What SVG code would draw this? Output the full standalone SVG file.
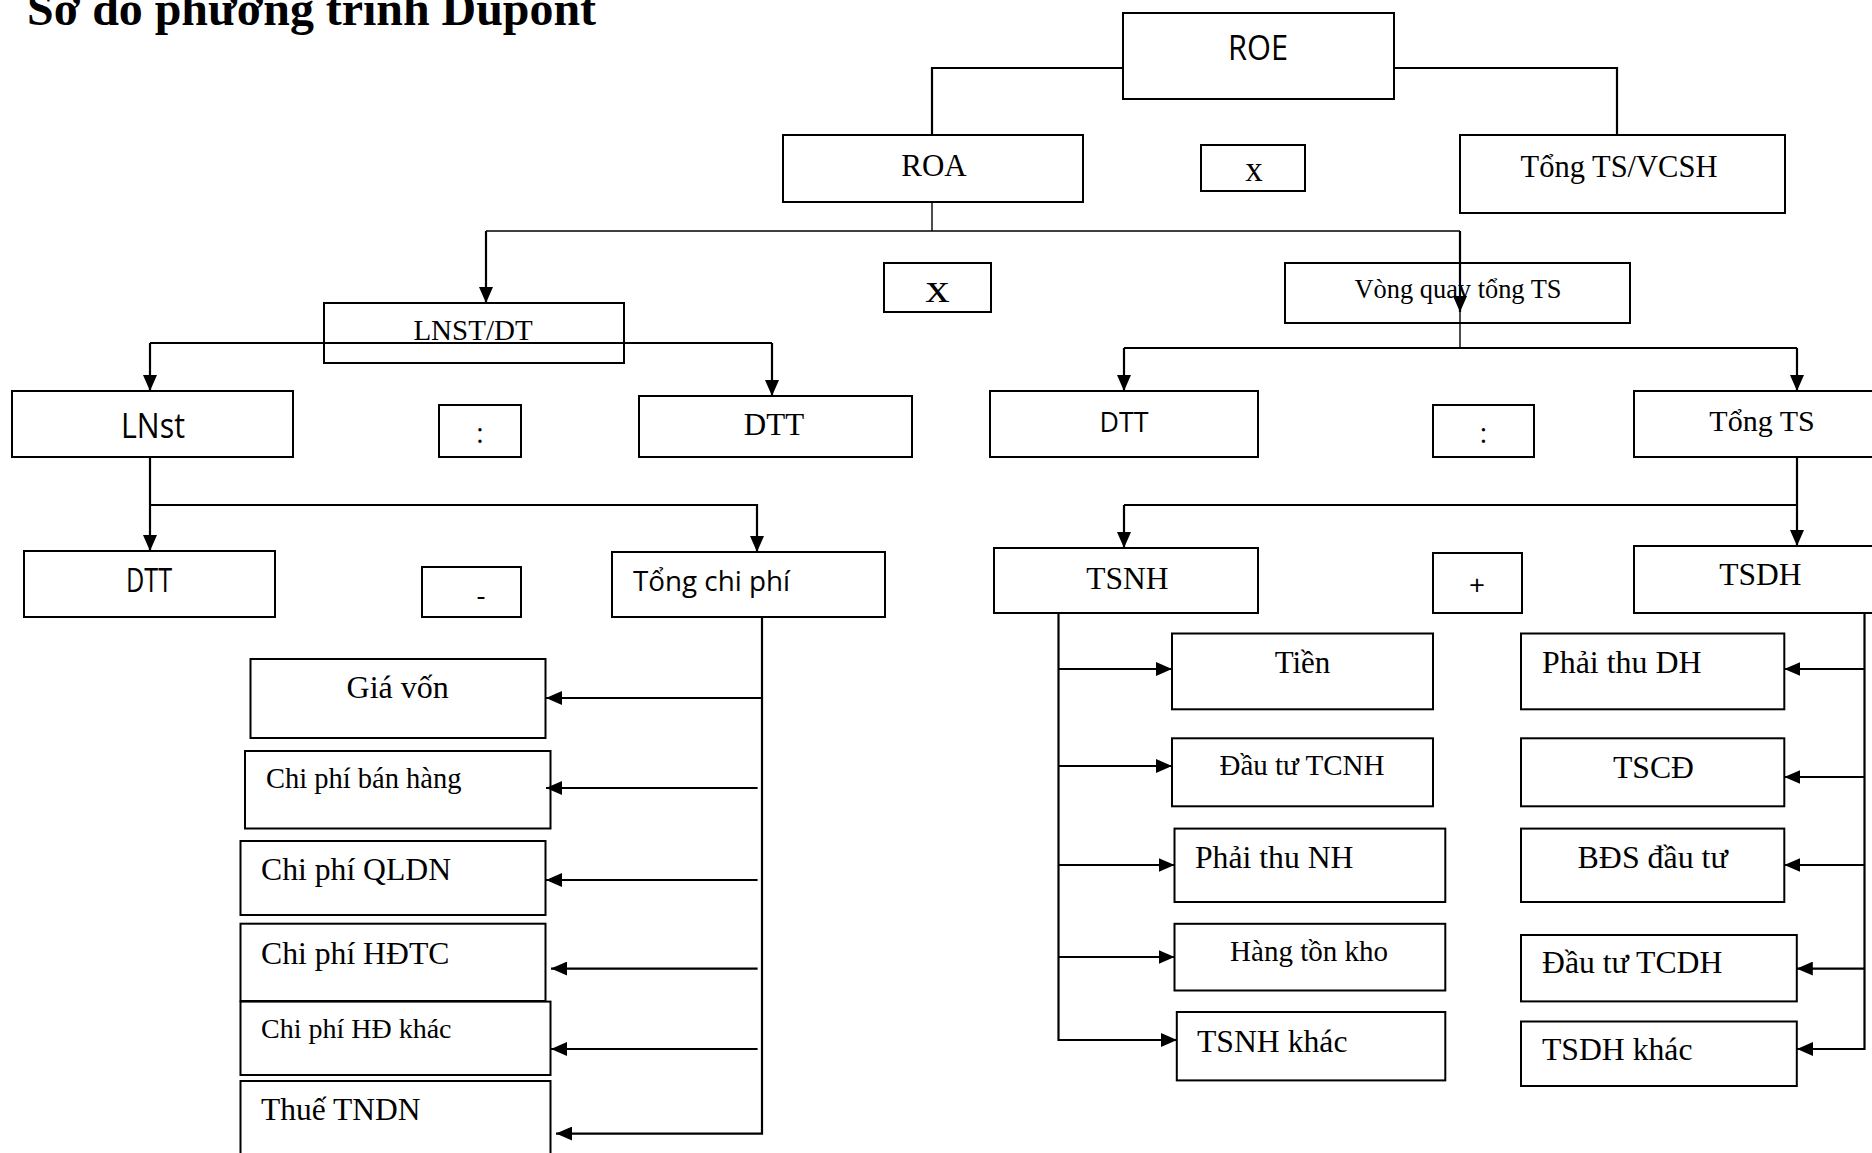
<svg xmlns="http://www.w3.org/2000/svg" width="1872" height="1153" viewBox="0 0 1872 1153">
<style>
.box{fill:none;stroke:#000;stroke-width:2}
.ln{fill:none;stroke:#000;stroke-width:2.2}
.thin{fill:none;stroke:#000;stroke-width:1.4}
.arr{marker-end:url(#ah)}
.sf{font-family:"Liberation Serif","Times New Roman",serif;fill:#000}
.ss{font-family:"Open Sans","Noto Sans",sans-serif;fill:#000}
.m{text-anchor:middle}
</style>
<defs>
<marker id="ah" viewBox="0 0 10 10" refX="10" refY="5" markerUnits="userSpaceOnUse" markerWidth="16" markerHeight="14" preserveAspectRatio="none" orient="auto">
<path d="M0,0 L10,5 L0,10 z" fill="#000"/>
</marker>
</defs>
<rect width="1872" height="1153" fill="#fff"/>
<text class="sf" x="27" y="25" font-size="48" font-weight="bold" textLength="569" lengthAdjust="spacingAndGlyphs">Sơ đồ phương trình Dupont</text>

<g id="n-roe"><rect class="box" x="1123" y="13" width="271" height="86"/><text class="ss m" x="1258" y="60" font-size="34" textLength="60" lengthAdjust="spacingAndGlyphs">ROE</text></g>
<g id="n-roa"><rect class="box" x="783" y="135" width="300" height="67"/><text class="sf m" x="934" y="176" font-size="31">ROA</text></g>
<g id="n-x1"><rect class="box" x="1201" y="145" width="104" height="46"/><text class="sf m" x="1254" y="181" font-size="35">x</text></g>
<g id="n-tsvcsh"><rect class="box" x="1460" y="135" width="325" height="78"/><text class="sf m" x="1619" y="177" font-size="30.5">Tổng TS/VCSH</text></g>
<g id="n-x2"><rect class="box" x="884" y="263" width="107" height="49"/><text class="sf m" x="937.5" y="302" font-size="39" textLength="24" lengthAdjust="spacingAndGlyphs">x</text></g>
<g id="n-vongquay"><rect class="box" x="1285" y="263" width="345" height="60"/><text class="sf m" x="1458" y="298" font-size="26.4">Vòng quay tổng TS</text></g>
<g id="n-lnstdt"><rect class="box" x="324" y="303" width="300" height="60"/><text class="sf m" x="473" y="340" font-size="29">LNST/DT</text></g>
<g id="n-lnst"><rect class="box" x="12" y="391" width="281" height="66"/><text class="ss m" x="153" y="438" font-size="34" textLength="64" lengthAdjust="spacingAndGlyphs">LNst</text></g>
<g id="n-div1"><rect class="box" x="439" y="405" width="82" height="52"/><text class="ss m" x="480" y="443" font-size="28">:</text></g>
<g id="n-dtt1"><rect class="box" x="639" y="396" width="273" height="61"/><text class="sf m" x="774" y="435" font-size="31">DTT</text></g>
<g id="n-dtt2"><rect class="box" x="990" y="391" width="268" height="66"/><text class="ss m" x="1124" y="432" font-size="28" textLength="49" lengthAdjust="spacingAndGlyphs">DTT</text></g>
<g id="n-div2"><rect class="box" x="1433" y="405" width="101" height="52"/><text class="ss m" x="1483.5" y="443" font-size="28">:</text></g>
<g id="n-tongts"><rect class="box" x="1634" y="391" width="250" height="66"/><text class="sf m" x="1762" y="431" font-size="30">Tổng TS</text></g>
<g id="n-dtt3"><rect class="box" x="24" y="551" width="251" height="66"/><text class="ss m" x="149" y="592" font-size="33" textLength="46" lengthAdjust="spacingAndGlyphs">DTT</text></g>
<g id="n-minus"><rect class="box" x="422" y="567" width="99" height="50"/><text class="ss m" x="481" y="605" font-size="28">-</text></g>
<g id="n-tongcp"><rect class="box" x="612" y="552" width="273" height="65"/><text class="ss" x="633" y="591" font-size="28" textLength="157" lengthAdjust="spacingAndGlyphs">Tổng chi phí</text></g>
<g id="n-tsnh"><rect class="box" x="994" y="548" width="264" height="65"/><text class="sf m" x="1127.5" y="589" font-size="31.5">TSNH</text></g>
<g id="n-plus"><rect class="box" x="1433" y="553" width="89" height="60"/><text class="ss m" x="1477" y="595" font-size="28">+</text></g>
<g id="n-tsdh"><rect class="box" x="1634" y="546" width="250" height="67"/><text class="sf m" x="1760.5" y="585" font-size="31.5">TSDH</text></g>

<g id="n-giavon"><rect class="box" x="250.5" y="659" width="295" height="79"/><text class="sf m" x="397.7" y="698" font-size="32">Giá vốn</text></g>
<g id="n-cpbh"><rect class="box" x="245" y="751" width="305.5" height="77.5"/><text class="sf" x="266" y="788" font-size="28.5">Chi phí bán hàng</text></g>
<g id="n-qldn"><rect class="box" x="240.5" y="841" width="305" height="74"/><text class="sf" x="261" y="880" font-size="31.7">Chi phí QLDN</text></g>
<g id="n-hdtc"><rect class="box" x="240.5" y="923.7" width="305" height="77.3"/><text class="sf" x="261" y="963.5" font-size="31.7">Chi phí HĐTC</text></g>
<g id="n-hdkhac"><rect class="box" x="240.5" y="1001.6" width="310" height="73.4"/><text class="sf" x="261" y="1037.7" font-size="28">Chi phí HĐ khác</text></g>
<g id="n-thue"><rect class="box" x="240.5" y="1081" width="310" height="90"/><text class="sf" x="261" y="1120" font-size="31.5">Thuế TNDN</text></g>

<g id="n-tien"><rect class="box" x="1172" y="633.5" width="261" height="75.8"/><text class="sf m" x="1302.5" y="673" font-size="31">Tiền</text></g>
<g id="n-dttcnh"><rect class="box" x="1172" y="738.3" width="261" height="68"/><text class="sf m" x="1302" y="775" font-size="29">Đầu tư TCNH</text></g>
<g id="n-ptnh"><rect class="box" x="1174.5" y="828.6" width="270.8" height="73.4"/><text class="sf" x="1195" y="868" font-size="31.7">Phải thu NH</text></g>
<g id="n-htk"><rect class="box" x="1174.5" y="923.8" width="270.8" height="66.7"/><text class="sf m" x="1309" y="961" font-size="29">Hàng tồn kho</text></g>
<g id="n-tsnhk"><rect class="box" x="1176.8" y="1012" width="268.5" height="68.4"/><text class="sf" x="1197" y="1051.5" font-size="31.7">TSNH khác</text></g>

<g id="n-ptdh"><rect class="box" x="1521" y="633.5" width="263.3" height="75.8"/><text class="sf" x="1542" y="673" font-size="31.9">Phải thu DH</text></g>
<g id="n-tscd"><rect class="box" x="1521" y="738.3" width="263.3" height="68"/><text class="sf m" x="1653.5" y="778" font-size="31.7">TSCĐ</text></g>
<g id="n-bds"><rect class="box" x="1521" y="828.6" width="263.3" height="73.4"/><text class="sf m" x="1652.7" y="868" font-size="31.9">BĐS đầu tư</text></g>
<g id="n-dttcdh"><rect class="box" x="1521" y="935" width="275.8" height="66.4"/><text class="sf" x="1542" y="973" font-size="31.7">Đầu tư TCDH</text></g>
<g id="n-tsdhk"><rect class="box" x="1521" y="1021.5" width="275.8" height="64.5"/><text class="sf" x="1542" y="1060" font-size="31.7">TSDH khác</text></g>

<g id="connectors">
<path class="ln" d="M1123,68 H932 V135"/>
<path class="ln" d="M1394,68 H1617 V135"/>
<path class="thin" d="M932,202 V231"/>
<path class="thin" d="M486,231 H1460"/>
<path class="ln arr" d="M486,231 V303"/>
<path class="ln arr" d="M1460,231 V312"/>
<path class="thin" d="M1460,310 V348"/>
<path class="ln" d="M1124,348 H1797"/>
<path class="ln arr" d="M1124,348 V391"/>
<path class="ln arr" d="M1797,348 V391"/>
<path class="ln" d="M150,343 H772"/>
<path class="ln arr" d="M150,343 V391"/>
<path class="ln arr" d="M772,343 V396"/>
<path class="ln arr" d="M150,457 V551"/>
<path class="ln arr" d="M150,505 H757 V552"/>
<path class="ln" d="M1124,505 H1797"/>
<path class="ln arr" d="M1124,505 V548"/>
<path class="ln arr" d="M1797,457 V546"/>
<path class="ln arr" d="M762,617 V1133.6 H556"/>
<path class="ln arr" d="M762,698 H546"/>
<path class="ln arr" d="M757.6,788 H546"/>
<path class="ln arr" d="M757.6,880 H546"/>
<path class="ln arr" d="M757.6,968.6 H551"/>
<path class="ln arr" d="M757.6,1049 H551"/>
<path class="ln arr" d="M1058.5,614 V1040 H1177"/>
<path class="ln arr" d="M1058.5,669 H1172"/>
<path class="ln arr" d="M1058.5,766 H1172"/>
<path class="ln arr" d="M1058.5,865 H1174.5"/>
<path class="ln arr" d="M1058.5,957 H1174.5"/>
<path class="ln arr" d="M1864.5,614 V1049 H1797"/>
<path class="ln arr" d="M1864.5,669 H1784.3"/>
<path class="ln arr" d="M1864.5,777 H1784.3"/>
<path class="ln arr" d="M1864.5,865 H1784.3"/>
<path class="ln arr" d="M1864.5,968.6 H1796.8"/>
</g>
</svg>
